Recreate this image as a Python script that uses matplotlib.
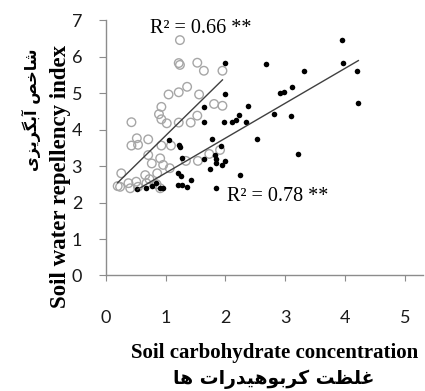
import matplotlib
matplotlib.use("Agg")
import matplotlib.pyplot as plt
import numpy as np

# open grey circles
open_x = [1.24, 1.22, 1.24, 1.53, 1.64, 1.95, 1.36, 1.22, 1.05, 1.56, 1.81, 1.95,
          0.93, 0.43, 0.89, 0.93, 1.02, 1.22, 1.42, 1.53, 0.52, 0.71, 0.43, 0.54,
          0.93, 1.09, 1.73, 1.34, 1.54, 0.71, 0.77, 0.91, 0.96, 1.07, 1.91, 0.24,
          0.26, 0.38, 0.41, 0.51, 0.54, 0.66, 0.68, 0.73, 0.85, 0.91, 0.86, 0.20]
open_y = [6.45, 5.82, 5.77, 5.83, 5.61, 5.61, 5.17, 5.02, 4.96, 4.96, 4.70, 4.65,
          4.62, 4.20, 4.42, 4.28, 4.17, 4.19, 4.19, 4.38, 3.76, 3.73, 3.56, 3.58,
          3.56, 3.56, 3.33, 3.14, 3.14, 3.30, 3.07, 3.21, 3.03, 2.94, 3.44, 2.43,
          2.80, 2.53, 2.39, 2.57, 2.43, 2.75, 2.53, 2.64, 2.50, 2.39, 2.80, 2.45]

# filled black dots
fill_x = [3.94, 3.97, 4.19, 3.31, 3.12, 2.91, 2.98, 3.09, 2.81, 4.22, 3.22, 2.67,
          2.00, 1.99, 1.65, 2.37, 1.65, 1.98, 2.11, 2.18, 2.23, 2.34, 2.52, 1.77,
          1.05, 1.22, 1.24, 1.92, 1.27, 1.65, 1.82, 1.84, 1.85, 1.94, 1.99, 1.75,
          2.24, 1.84, 1.21, 1.25, 1.21, 1.27, 1.35, 1.42, 0.53, 0.68, 0.77, 0.84,
          0.91, 0.96]
fill_y = [6.45, 5.81, 5.60, 5.60, 5.17, 4.99, 5.02, 4.38, 4.42, 4.72, 3.32, 5.79,
          5.81, 4.97, 4.61, 4.65, 4.20, 4.20, 4.20, 4.26, 4.40, 4.20, 3.74, 3.74,
          3.71, 3.58, 3.51, 3.55, 3.21, 3.18, 3.30, 3.18, 3.07, 3.03, 3.15, 2.92,
          2.75, 2.40, 2.80, 2.73, 2.48, 2.48, 2.42, 2.62, 2.36, 2.39, 2.45, 2.54,
          2.39, 2.41]

# trend lines: (slope, intercept)
trend_open = (1.61, 2.22)
trend_fill = (0.957, 1.85)

r2_open = "R\u00b2 = 0.66 **"
r2_fill = "R\u00b2 = 0.78 **"
xticks = [0, 1, 2, 3, 4, 5]
yticks = [0, 1, 2, 3, 4, 5, 6, 7]

ylab_en = "Soil water repellency index"
xlab_en = "Soil carbohydrate concentration"
# Persian labels: "شاخص آبگریزی" and "غلظت کربوهیدرات ها",
# written with presentation forms in visual order
ylab_fa_vis = "\uFBFC\uFEB0\uFBFE\uFEAE\uFB95\uFE91\uFE81 \uFEBA\uFEA7\uFE8E\uFEB7"
xlab_fa_vis = "\uFE8E\uFEEB \uFE95\uFE8D\uFEAD\uFEAA\uFBFF\uFEEB\uFEEE\uFE91\uFEAE\uFB90 \uFE96\uFEC8\uFEE0\uFECF"

fig = plt.figure(figsize=(4.25, 3.91), dpi=100)
ax = fig.add_axes([0.2487, 0.2954, 0.7466, 0.6534])

ax.scatter(open_x, open_y, s=38, facecolors="none", edgecolors="#a6a6a6",
           linewidths=1.0, zorder=2)
ax.scatter(fill_x, fill_y, s=16, color="black", linewidths=0, zorder=3)

for xs, (k, b) in [(open_x, trend_open), (fill_x, trend_fill)]:
    xx = np.array([min(xs), max(xs)])
    ax.plot(xx, k * xx + b, color="#404040", lw=1.0, zorder=4)

ax.set_xlim(0, 5.3)
ax.set_ylim(0, 7)
ax.set_xticks(xticks)
ax.set_yticks(yticks)
for s in ["top", "right"]:
    ax.spines[s].set_visible(False)
for s in ["left", "bottom"]:
    ax.spines[s].set_color("#8c8c8c")
    ax.spines[s].set_linewidth(1.0)
ax.tick_params(axis="y", direction="out", length=5, color="#8c8c8c", pad=12,
               labelsize=13)
ax.tick_params(axis="x", direction="out", length=4, color="#8c8c8c", pad=21,
               labelsize=13)
for lab in ax.get_xticklabels() + ax.get_yticklabels():
    lab.set_family("Lato")
    lab.set_color("#1a1a1a")

ax.text(1.58, 6.78, r2_open, fontsize=14.5, family="Liberation Serif",
        ha="center", va="center")
ax.text(2.88, 2.16, r2_fill, fontsize=14.5, family="Liberation Serif",
        ha="center", va="center")

fig.text(61 / 425, 1 - 176 / 391, ylab_en, rotation=90, fontsize=16.5,
         fontweight="bold", family="Liberation Serif", ha="center", va="center")
fig.text(31 / 425, 1 - 110 / 391, ylab_fa_vis, rotation=90, fontsize=11.5,
         fontweight="bold", family=["DejaVu Sans"], ha="center", va="center")
fig.text(275 / 425, 1 - 353 / 391, xlab_en, fontsize=15,
         fontweight="bold", family="Liberation Serif", ha="center", va="center")
fig.text(274 / 425, 1 - 379 / 391, xlab_fa_vis, fontsize=13.5,
         fontweight="bold", family=["DejaVu Sans"], ha="center", va="center")

fig.savefig("out.png", dpi=100)
